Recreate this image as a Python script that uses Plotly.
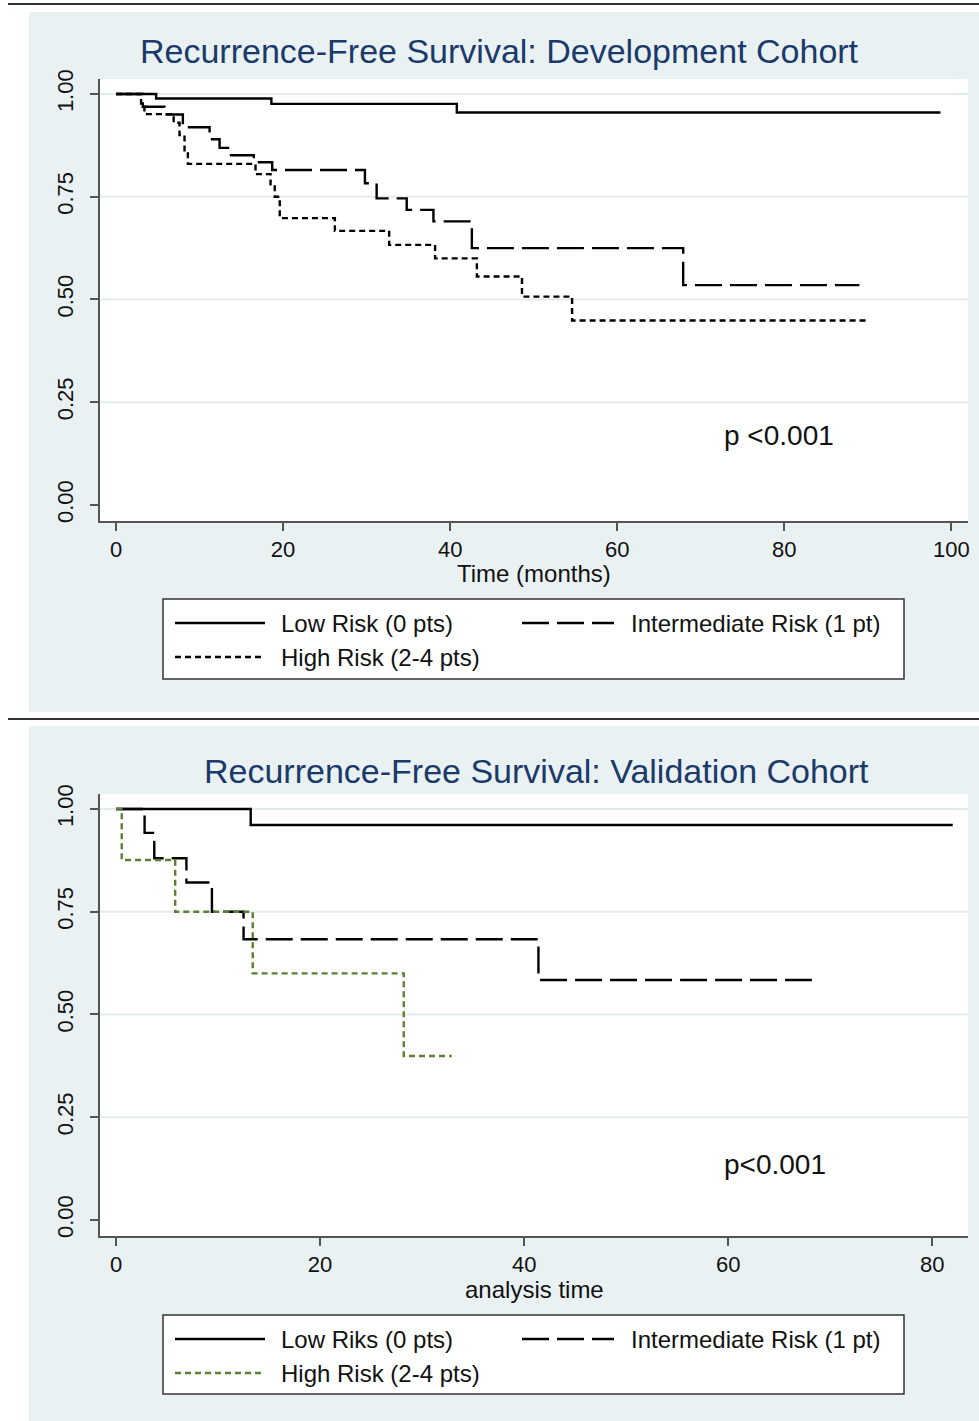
import plotly.graph_objects as go

# ---------------- data ----------------
# Development cohort
dev_low_t = [0, 4.8, 18.6, 40.8, 98.7]
dev_low_s = [1.0, 0.989, 0.976, 0.955, 0.955]

dev_int_t = [0, 3.2, 5.8, 8.0, 11.2, 12.4, 13.6, 16.5, 18.7, 29.8, 31.2, 34.8, 38.0, 42.6, 67.9, 89.0]
dev_int_s = [1.0, 0.969, 0.950, 0.919, 0.890, 0.869, 0.851, 0.834, 0.815, 0.783, 0.746, 0.718, 0.690, 0.625, 0.535, 0.535]

dev_high_t = [0, 3.0, 3.4, 6.9, 7.6, 8.2, 8.6, 16.7, 18.5, 19.0, 19.6, 26.2, 32.7, 38.2, 43.2, 48.6, 54.6, 89.8]
dev_high_s = [1.0, 0.977, 0.951, 0.930, 0.900, 0.860, 0.830, 0.805, 0.780, 0.750, 0.698, 0.667, 0.633, 0.600, 0.556, 0.507, 0.449, 0.449]

# Validation cohort
val_low_t = [0, 13.2, 82.0]
val_low_s = [1.0, 0.961, 0.961]

val_int_t = [0, 2.8, 3.75, 6.9, 9.4, 12.5, 41.4, 68.2]
val_int_s = [1.0, 0.942, 0.880, 0.821, 0.750, 0.683, 0.584, 0.584]

val_high_t = [0, 0.56, 5.8, 13.4, 28.2, 32.9]
val_high_s = [1.0, 0.876, 0.750, 0.600, 0.399, 0.399]

y_ticks = [0, 0.25, 0.5, 0.75, 1.0]
y_ticktext = ["0.00", "0.25", "0.50", "0.75", "1.00"]
dev_x_ticks = [0, 20, 40, 60, 80, 100]
val_x_ticks = [0, 20, 40, 60, 80]

dev_title = "Recurrence-Free Survival: Development Cohort"
val_title = "Recurrence-Free Survival: Validation Cohort"
dev_xlabel = "Time (months)"
val_xlabel = "analysis time"
dev_p = "p <0.001"
val_p = "p<0.001"
dev_legend = ["Low Risk (0 pts)", "Intermediate Risk (1 pt)", "High Risk (2-4 pts)"]
val_legend = ["Low Riks (0 pts)", "Intermediate Risk (1 pt)", "High Risk (2-4 pts)"]

# ---------------- styling ----------------
W, H = 979, 1421
FONT = "Liberation Sans, Arial, sans-serif"
BG = "#eaf1f3"
GRID = "#e3ebef"
NAVY = "#1a3a6a"
AX = "#555555"
GREEN = "#5b8034"
LW = 2.4
DASH_INT = "27px,8px"
DASH_HIGH = "6px,4px"


def px(x):
    return x / W


def py(y):
    return 1 - y / H


fig = go.Figure()

series = [
    (dev_low_t, dev_low_s, "x", "y", "black", "solid", dev_legend[0]),
    (dev_int_t, dev_int_s, "x", "y", "black", DASH_INT, dev_legend[1]),
    (dev_high_t, dev_high_s, "x", "y", "black", DASH_HIGH, dev_legend[2]),
    (val_low_t, val_low_s, "x2", "y2", "black", "solid", val_legend[0]),
    (val_int_t, val_int_s, "x2", "y2", "black", DASH_INT, val_legend[1]),
    (val_high_t, val_high_s, "x2", "y2", GREEN, DASH_HIGH, val_legend[2]),
]
for t, s, xa, ya, col, dash, name in series:
    fig.add_trace(go.Scatter(x=t, y=s, xaxis=xa, yaxis=ya, mode="lines", name=name,
                             line=dict(color=col, width=LW, dash=dash, shape="hv"),
                             showlegend=False, hoverinfo="skip"))

shapes = []
annotations = []

# panel separators and backgrounds
shapes.append(dict(type="line", xref="paper", yref="paper", x0=px(8), x1=1, y0=py(4), y1=py(4),
                   line=dict(color="#333", width=2), layer="below"))
shapes.append(dict(type="line", xref="paper", yref="paper", x0=px(8), x1=1, y0=py(719), y1=py(719),
                   line=dict(color="#333", width=2), layer="below"))

panels = [
    dict(bg=(29, 12, 979, 712), plot=(100, 79, 968, 521), title=dev_title, title_x=500, title_y=51,
         xlab=dev_xlabel, xlab_y=574, leg=(163, 599, 904, 679), legtext=dev_legend,
         high_col="black", xa="x", ya="y"),
    dict(bg=(29, 726, 979, 1421), plot=(100, 794, 968, 1236), title=val_title, title_x=536, title_y=771,
         xlab=val_xlabel, xlab_y=1289, leg=(163, 1315, 904, 1394), legtext=val_legend,
         high_col=GREEN, xa="x2", ya="y2"),
]

for p in panels:
    x0, y0, x1, y1 = p["bg"]
    shapes.append(dict(type="rect", xref="paper", yref="paper", x0=px(x0), x1=px(x1), y0=py(y1), y1=py(y0),
                       fillcolor=BG, line=dict(width=0), layer="below"))
    x0, y0, x1, y1 = p["plot"]
    shapes.append(dict(type="rect", xref="paper", yref="paper", x0=px(x0), x1=px(x1), y0=py(y1), y1=py(y0),
                       fillcolor="white", line=dict(width=0), layer="below"))
    # grid lines (no line at 0)
    for v in y_ticks[1:]:
        shapes.append(dict(type="line", xref=p["xa"] + " domain", yref=p["ya"], x0=0, x1=1, y0=v, y1=v,
                           line=dict(color=GRID, width=2), layer="below"))
    # title
    annotations.append(dict(xref="paper", yref="paper", x=px(p["title_x"]), y=py(p["title_y"]),
                            text=p["title"], showarrow=False, xanchor="center", yanchor="middle",
                            font=dict(family=FONT, size=34, color=NAVY)))
    # x axis label
    annotations.append(dict(xref="paper", yref="paper", x=px(534), y=py(p["xlab_y"]),
                            text=p["xlab"], showarrow=False, xanchor="center", yanchor="middle",
                            font=dict(family=FONT, size=24, color="#111")))
    # legend box
    lx0, ly0, lx1, ly1 = p["leg"]
    shapes.append(dict(type="rect", xref="paper", yref="paper", x0=px(lx0), x1=px(lx1), y0=py(ly1), y1=py(ly0),
                       fillcolor="white", line=dict(color="#333", width=1.5), layer="below"))
    r1 = ly0 + 24
    r2 = ly0 + 58
    items = [
        (175, 265, r1, "black", "solid", 279, p["legtext"][0]),
        (522, 614, r1, "black", DASH_INT, 629, p["legtext"][1]),
        (175, 265, r2, p["high_col"], DASH_HIGH, 279, p["legtext"][2]),
    ]
    for sx0, sx1, ry, col, dash, tx, txt in items:
        shapes.append(dict(type="line", xref="paper", yref="paper", x0=px(sx0), x1=px(sx1), y0=py(ry), y1=py(ry),
                           line=dict(color=col, width=LW, dash=dash), layer="above"))
        annotations.append(dict(xref="paper", yref="paper", x=px(tx), y=py(ry), text=txt, showarrow=False,
                                xanchor="left", yanchor="middle", font=dict(family=FONT, size=24, color="#111")))

# p-values
annotations.append(dict(xref="x", yref="y", x=72.6, y=0.17, text=dev_p, showarrow=False,
                        xanchor="left", yanchor="middle", font=dict(family=FONT, size=28, color="#111")))
annotations.append(dict(xref="x2", yref="y2", x=59.4, y=0.136, text=val_p, showarrow=False,
                        xanchor="left", yanchor="middle", font=dict(family=FONT, size=28, color="#111")))

common_x = dict(ticks="outside", ticklen=8, tickwidth=1.5, tickcolor=AX, showline=True, linecolor=AX,
                linewidth=2, showgrid=False, zeroline=False, automargin=False,
                tickfont=dict(family=FONT, size=22, color="#111"), ticklabelstandoff=0)
common_y = dict(ticks="outside", ticklen=8, tickwidth=1.5, tickcolor=AX, showline=True, linecolor=AX,
                linewidth=2, showgrid=False, zeroline=False, automargin=False, tickangle=-90,
                tickvals=y_ticks, ticktext=y_ticktext,
                tickfont=dict(family=FONT, size=22, color="#111"), ticklabelstandoff=8)

fig.update_layout(
    width=W, height=H, margin=dict(l=0, r=0, t=0, b=0),
    paper_bgcolor="white", plot_bgcolor="rgba(0,0,0,0)", showlegend=False,
    font=dict(family=FONT, size=22, color="#111"),
    xaxis=dict(domain=[px(100), px(968)], anchor="y", range=[-1.92, 102.0], tickvals=dev_x_ticks, **common_x),
    yaxis=dict(domain=[py(521), py(79)], anchor="x", range=[-0.039, 1.0365], **common_y),
    xaxis2=dict(domain=[px(100), px(968)], anchor="y2", range=[-1.57, 83.5], tickvals=val_x_ticks, **common_x),
    yaxis2=dict(domain=[py(1236), py(794)], anchor="x2", range=[-0.039, 1.0365], **common_y),
    shapes=shapes, annotations=annotations,
)

fig.write_html("out.html", config={"displayModeBar": False},
               post_script="document.body.style.margin='0px';")
